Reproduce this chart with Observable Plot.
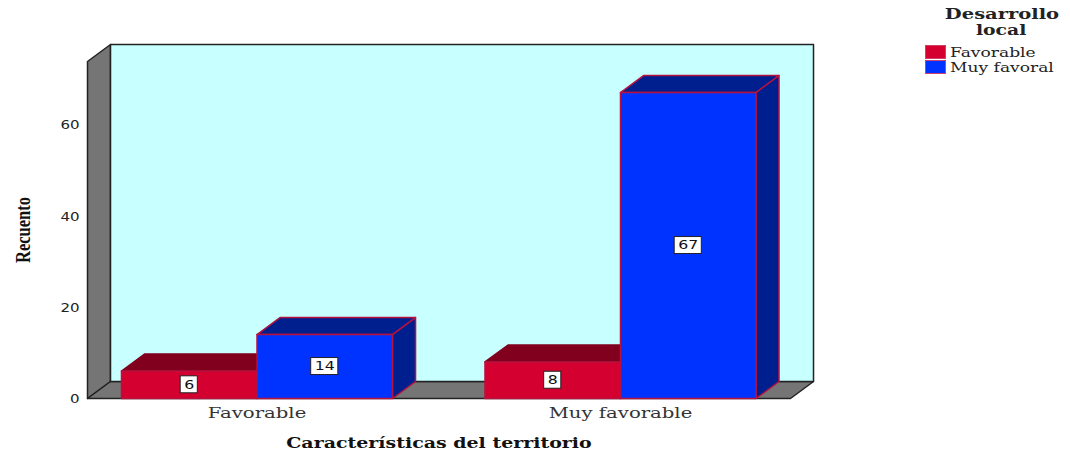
<!DOCTYPE html>
<html><head><meta charset="utf-8">
<script src="https://cdn.jsdelivr.net/npm/d3@7"></script>
<script src="https://cdn.jsdelivr.net/npm/@observablehq/plot@0.6"></script>
<style>
html,body{margin:0;padding:0;background:#fff;overflow:hidden}
#wrap{position:relative;width:1070px;height:454px}
.lg{position:absolute;font-family:"DejaVu Serif",serif;color:#222;white-space:nowrap}
.lg span{display:inline-block}
.sw{position:absolute;left:925px;width:19px;height:12px;border:1px solid #d0406a}
</style></head><body><div id="wrap"></div>
<script>
const categories = ["Favorable", "Muy favorable"];
const legendLabels = ["Favorable", "Muy favoral"];
const favorable = [6, 8];
const muyFavorable = [14, 67];
const yTicks = [0, 20, 40, 60];
const seriesFront = ["#d40030", "#0033ff"];
const seriesTop = ["#80001e", "#001f8f"];
const seriesSide = ["#80001e", "#001f8f"];
const edge = "#b5123f";

const xDomain = [-0.4663, 1.4677], yDomain = [0, 73.8];
const barW = 0.3728, depthX = 0.0633, depthY = 3.72;

const poly = (pts, fill, stroke = "#222", strokeWidth = 1.5) =>
  Plot.line(pts.map(([x, y]) => ({x, y})), {x: "x", y: "y", fill, stroke, strokeWidth, curve: "linear-closed"});

const [x0, x1] = xDomain, [y0, y1] = yDomain;
const walls = [
  poly([[x0, y1], [x0 + depthX, y1 + depthY], [x0 + depthX, y0 + depthY], [x0, y0]], "#757575"),
  poly([[x0, y0], [x0 + depthX, y0 + depthY], [x1 + depthX, y0 + depthY], [x1, y0]], "#757575"),
  poly([[x0 + depthX, y0 + depthY], [x0 + depthX, y1 + depthY], [x1 + depthX, y1 + depthY], [x1 + depthX, y0 + depthY]], "#c8ffff")
];

const bars = [];
const labels = [];
[favorable, muyFavorable].forEach((vals, s) => {
  vals.forEach((v, c) => {
    const l = c + (s - 1) * barW, r = l + barW;
    labels.push({x: (l + r) / 2, y: v / 2, t: String(v)});
    bars.push(
      poly([[l, v], [l + depthX, v + depthY], [r + depthX, v + depthY], [r, v]], seriesTop[s], s ? edge : seriesTop[s]),
      poly([[r, 0], [r + depthX, depthY], [r + depthX, v + depthY], [r, v]], seriesSide[s], s ? edge : seriesSide[s]),
      poly([[l, 0], [r, 0], [r, v], [l, v]], seriesFront[s], edge)
    );
  });
});

// widen or narrow glyphs about their anchor, as in the reference's resampled text
const stretch = (sx) => (index, scales, values, dims, ctx, next) => {
  const g = next(index, scales, values, dims, ctx);
  g.querySelectorAll("text").forEach((t) => {
    t.setAttribute("transform", `${t.getAttribute("transform") || ""} scale(${sx},1)`);
  });
  return g;
};

const chart = Plot.plot({
  width: 1070, height: 454,
  marginLeft: 87, marginRight: 280, marginTop: 61, marginBottom: 56,
  style: {background: "transparent", overflow: "visible"},
  x: {domain: xDomain, axis: null},
  y: {domain: yDomain, axis: null},
  marks: [
    ...walls,
    ...bars,
    Plot.rect(labels, {
      x1: (d) => d.x - d.t.length * 0.01375 - 0.0098, x2: (d) => d.x + d.t.length * 0.01375 + 0.0098,
      y1: (d) => d.y - 1.86, y2: (d) => d.y + 1.86,
      fill: "#fff", stroke: "#222", strokeWidth: 1
    }),
    Plot.text(labels, {x: "x", y: "y", text: "t", fontFamily: "DejaVu Sans", fontSize: 12.3, fill: "#111", render: stretch(1.28)}),
    Plot.text(yTicks, {y: (d) => d, frameAnchor: "left", textAnchor: "end", dx: -8, dy: 1, text: (d) => String(d),
      fontFamily: "DejaVu Sans", fontSize: 12, fill: "#222", render: stretch(1.25)}),
    Plot.text(categories, {x: (d, i) => i, frameAnchor: "bottom", dy: 19, text: (d) => d,
      fontFamily: "DejaVu Serif", fontSize: 15, fill: "#333", render: stretch(1.31)}),
    Plot.text(["Recuento"], {frameAnchor: "left", textAnchor: "middle", rotate: -90, dx: -64, text: (d) => d,
      fontFamily: "Liberation Serif", fontWeight: "bold", fontSize: 20, fill: "#111", render: stretch(0.825)}),
    Plot.text(["Características del territorio"], {frameAnchor: "bottom", dy: 49, text: (d) => d,
      fontFamily: "DejaVu Serif", fontWeight: "bold", fontSize: 14.5, fill: "#111", render: stretch(1.31)})
  ]
});
const wrap = document.getElementById("wrap");
wrap.appendChild(chart);

const legend = [
  ["Desarrollo", 945, 6, 113, 16, 16, "bold", 15, "center", 1.3],
  ["local", 945, 21, 113, 18, 18, "bold", 15, "center", 1.25],
  [legendLabels[0], 950, 44, 107, 16, 16, "normal", 13.5, "left", 1.265],
  [legendLabels[1], 950, 59, 107, 16, 16, "normal", 13.5, "left", 1.265]
];
legend.forEach(([t, l, tp, w, h, lh, fw, fs, al, sx]) => {
  const d = document.createElement("div");
  d.className = "lg";
  d.style.cssText = `left:${l}px;top:${tp}px;width:${w}px;height:${h}px;line-height:${lh}px;font-weight:${fw};font-size:${fs}px;text-align:${al}`;
  const s = document.createElement("span");
  s.textContent = t;
  s.style.transform = `scaleX(${sx})`;
  s.style.transformOrigin = al === "left" ? "left center" : "center center";
  d.appendChild(s);
  wrap.appendChild(d);
});
seriesFront.forEach((c, i) => {
  const s = document.createElement("div");
  s.className = "sw";
  s.style.top = (45 + i * 15) + "px";
  s.style.background = c;
  wrap.appendChild(s);
});
</script></body></html>
